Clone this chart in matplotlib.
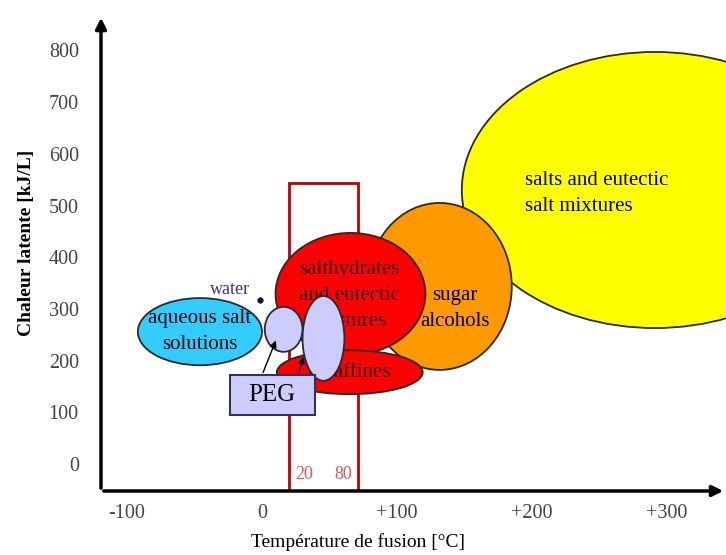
import matplotlib.pyplot as plt
import matplotlib.patches as patches

plt.rcParams['font.family'] = ['Liberation Serif', 'DejaVu Serif']

# Classes de matériaux: plage de température de fusion [°C] et chaleur latente [kJ/L]
classes = ['salts', 'sugar', 'hydrates', 'paraffins', 'aqueous', 'peg_small', 'peg_large']
t_min = [148, 78, 10, 11, -92, 2, 30]
t_max = [434, 185, 121, 119, 0, 30, 61]
h_min = [263, 182, 211, 135, 191, 217, 161]
h_max = [797, 505, 447, 220, 321, 304, 325]

# Plage 20-80 °C (cadre rouge)
range_lo = 20
range_hi = 71
range_top = 543

x_ticks = [-100, 0, 100, 200, 300]
x_labels = ['-100', '0', '+100', '+200', '+300']
y_ticks = [0, 100, 200, 300, 400, 500, 600, 700, 800]

colors = ['#ffff00', '#ff9900', '#ff0000', '#ff0000', '#33ccff', '#ccccff', '#ccccff']
zorders = [1, 2, 3, 4, 2, 5, 6]

fig = plt.figure(figsize=(7.26, 5.55), dpi=100)
ax = fig.add_axes([101 / 726, 64 / 555, 625 / 726, 476 / 555])
ax.set_xlim(-119.3, 343.7)
ax.set_ylim(-52.2, 868.5)

# Ellipses
for i in range(len(classes)):
    cx = (t_min[i] + t_max[i]) / 2
    cy = (h_min[i] + h_max[i]) / 2
    e = patches.Ellipse((cx, cy), t_max[i] - t_min[i], h_max[i] - h_min[i],
                        facecolor=colors[i], edgecolor='#2a2a2a', lw=1.3,
                        zorder=zorders[i])
    ax.add_patch(e)

# Cadre rouge 20-80
rect = patches.Rectangle((range_lo, -60), range_hi - range_lo, range_top + 60,
                         facecolor='none', edgecolor='#c00000', lw=2, zorder=0.5)
ax.add_patch(rect)
ax.text(31, -21, '20', color='#e05555', fontsize=13, ha='center', va='center', zorder=0.6)
ax.text(60, -21, '80', color='#e05555', fontsize=13, ha='center', va='center', zorder=0.6)

# Textes
fs = 15
ax.text(195, 524, 'salts and eutectic\nsalt mixtures', fontsize=fs, ha='left', va='center',
        linespacing=1.5, zorder=1.5)
ax.text(143, 300, 'sugar\nalcohols', fontsize=fs, ha='center', va='center',
        linespacing=1.5, zorder=2.5)
ax.text(65, 325, 'salthydrates\nand eutectic\nmixtures', fontsize=fs, ha='center', va='center',
        linespacing=1.5, color='#330000', zorder=3.5)
ax.text(65, 178, 'paraffines', fontsize=fs, ha='center', va='center',
        color='#330000', zorder=4.5)
ax.text(-46, 256, 'aqueous salt\nsolutions', fontsize=fs, ha='center', va='center',
        linespacing=1.5, zorder=2.5)
ax.text(-24, 337, 'water', fontsize=13, color='#333399', ha='center', va='center')
ax.plot([-1.5], [317], marker='o', markersize=3.5, color='#111133')

# Boîte PEG
peg = patches.Rectangle((-24, 95), 63, 77, facecolor='#ccccff', edgecolor='#333355',
                        lw=1.5, zorder=7)
ax.add_patch(peg)
ax.text(7.5, 133, 'PEG', fontsize=18, ha='center', va='center', zorder=8)
ax.annotate('', xy=(11, 244), xytext=(0, 172),
            arrowprops=dict(arrowstyle='-|>', color='black', lw=1, mutation_scale=10), zorder=8)
ax.annotate('', xy=(31, 213), xytext=(27, 172),
            arrowprops=dict(arrowstyle='-|>', color='black', lw=1, mutation_scale=10), zorder=8)

# Axes avec flèches
for s in ax.spines.values():
    s.set_visible(False)
ax.annotate('', xy=(1.0, 0), xytext=(0, 0), xycoords='axes fraction',
            arrowprops=dict(arrowstyle='-|>', color='black', lw=2.5, mutation_scale=16),
            annotation_clip=False, zorder=10)
ax.annotate('', xy=(0, 1.0), xytext=(0, 0), xycoords='axes fraction',
            arrowprops=dict(arrowstyle='-|>', color='black', lw=2.5, mutation_scale=16),
            annotation_clip=False, zorder=10)

ax.set_xticks(x_ticks)
ax.set_xticklabels(x_labels)
ax.set_yticks(y_ticks)
ax.tick_params(length=0, labelsize=14.5, labelcolor='#444444')
ax.tick_params(axis='x', pad=9)
ax.tick_params(axis='y', pad=16)

ax.set_xlabel('Température de fusion [°C]', fontsize=14)
ax.xaxis.set_label_coords((358 - 101) / 625, -(533 - 491) / 476)
ax.set_ylabel('Chaleur latente [kJ/L]', fontsize=14, fontweight='bold')
ax.yaxis.set_label_coords(-(101 - 35) / 625, (491 - 243) / 476)

fig.savefig('out.png', dpi=100)
